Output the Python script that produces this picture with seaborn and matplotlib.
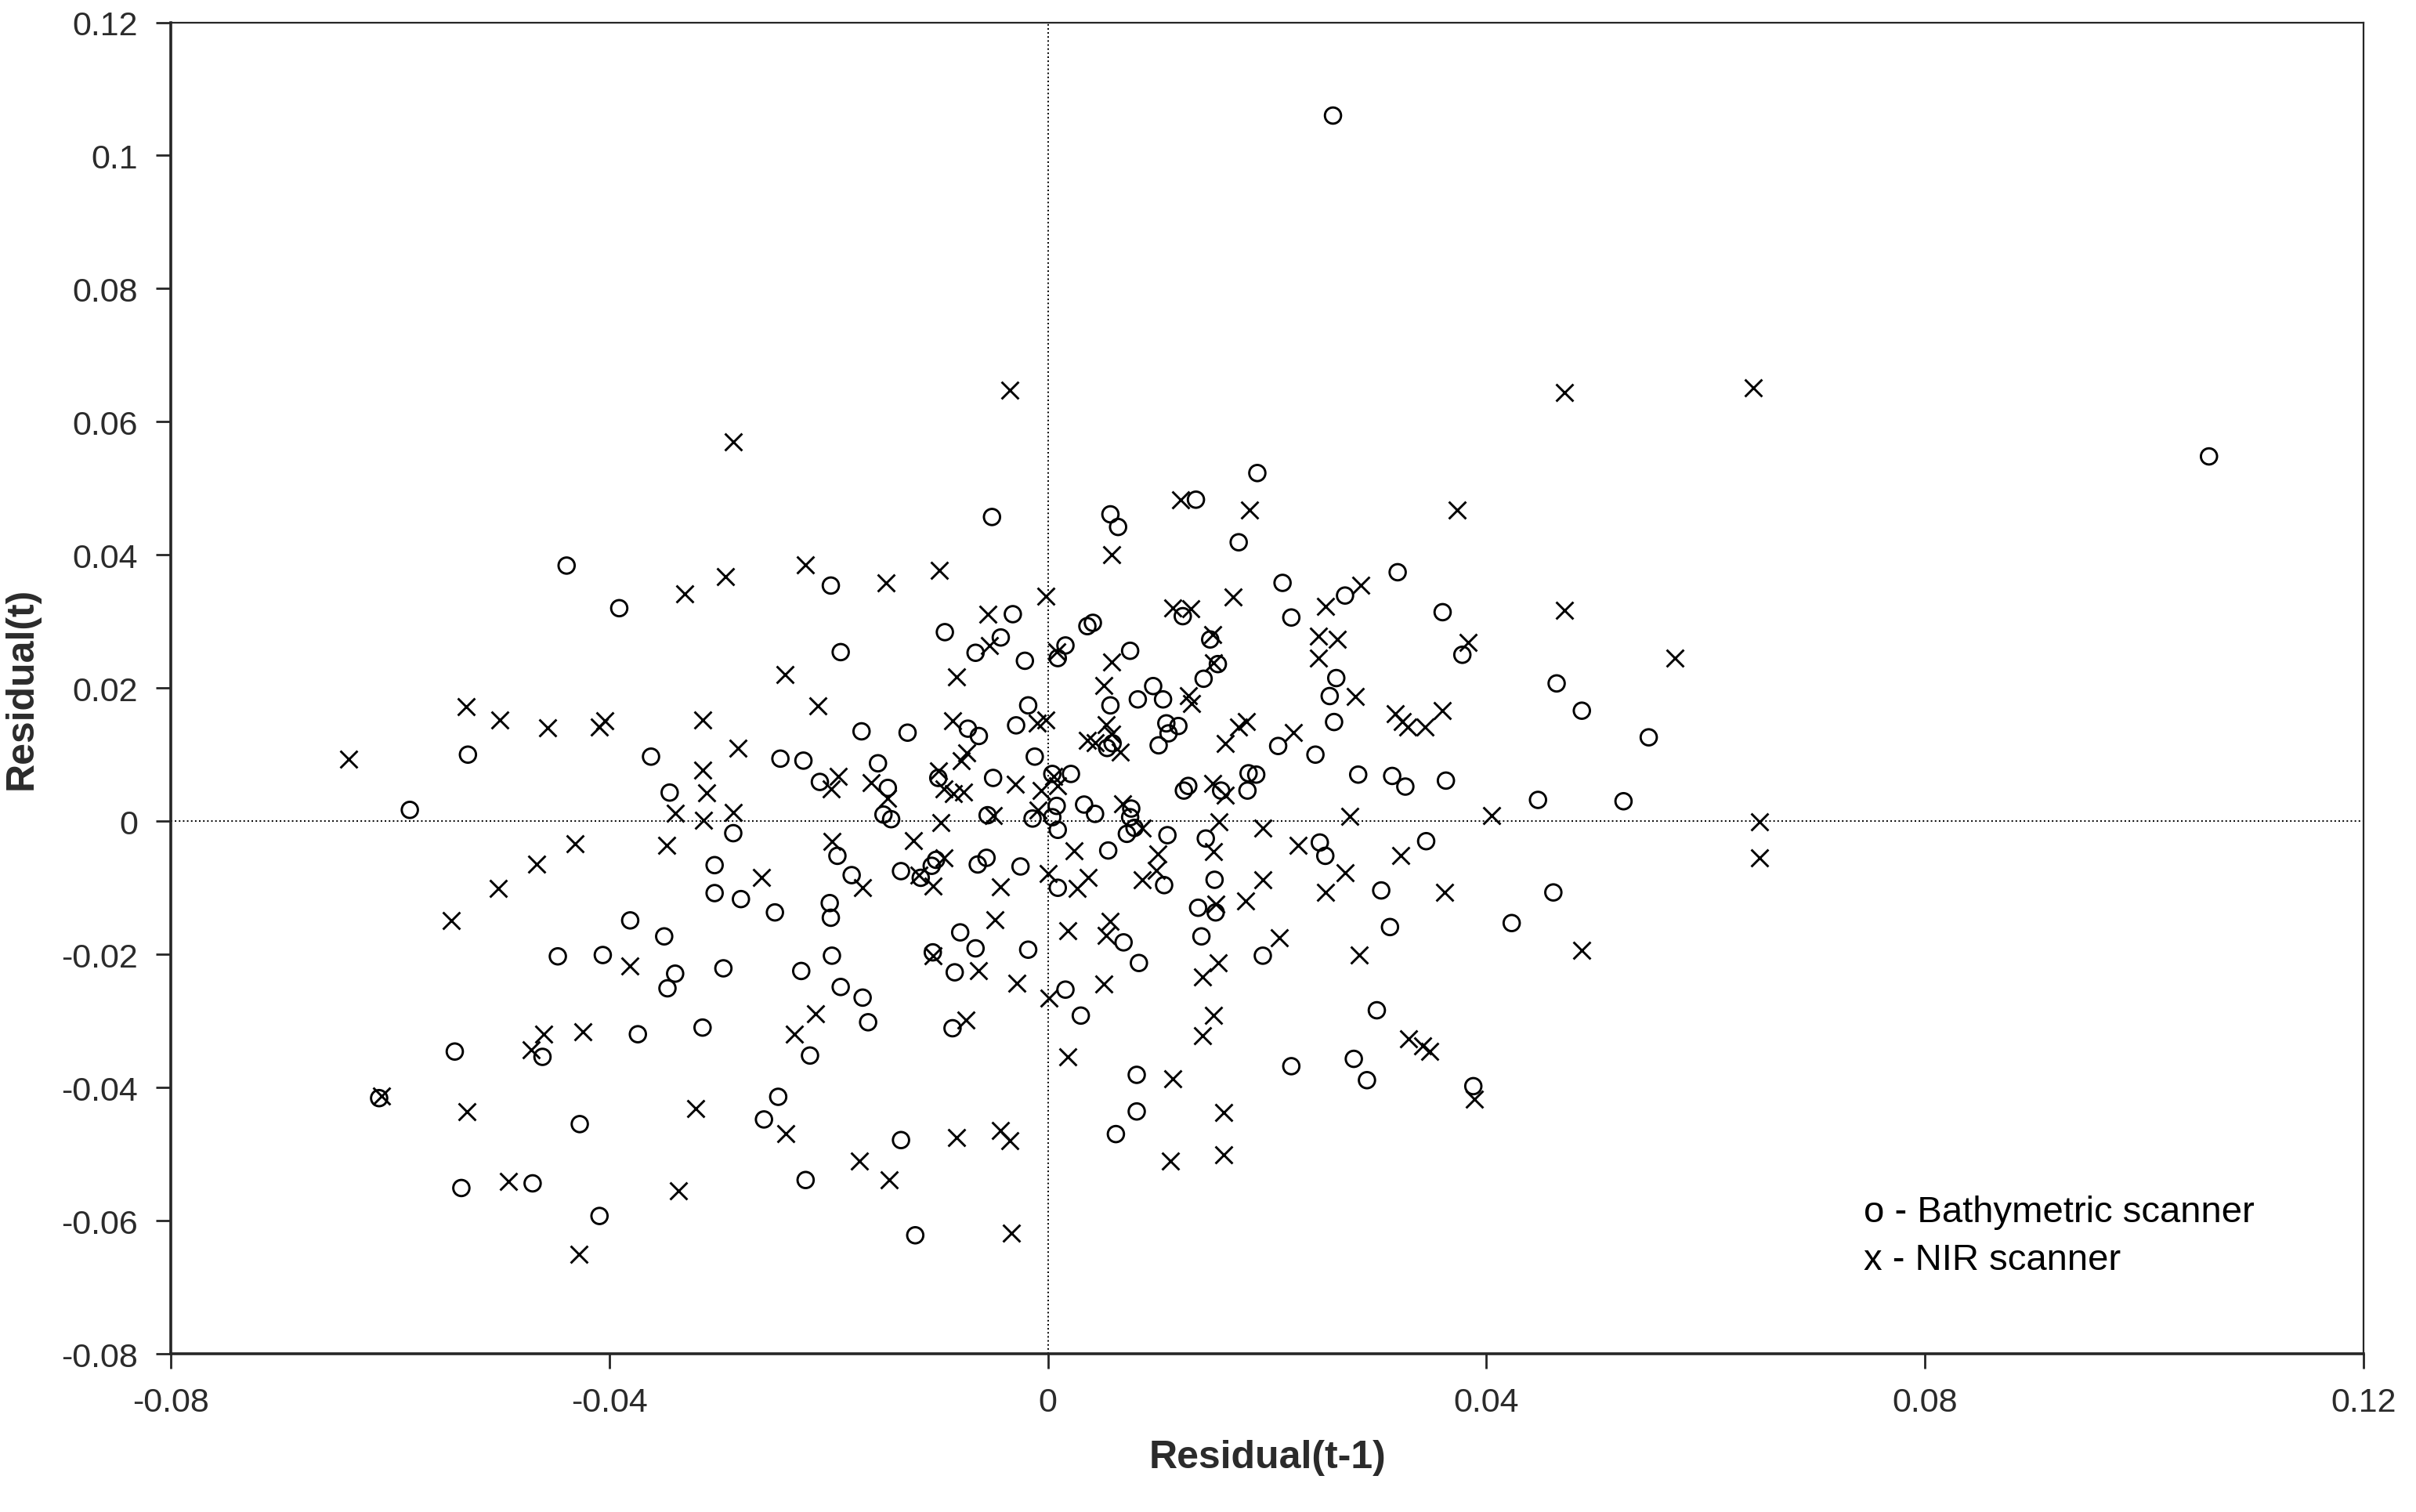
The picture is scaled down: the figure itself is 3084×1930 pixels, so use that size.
import pandas as pd
import matplotlib.pyplot as plt
import seaborn as sns

# Residual(t-1), Residual(t) pairs
bath_x = [0.0260, 0.1059,
          -0.0439, -0.0391, -0.0529, -0.0362, -0.0345, -0.0582,
          -0.0287, -0.0304, -0.0304, -0.0280, -0.0381, -0.0350, -0.0447, -0.0406, -0.0340, -0.0347,
          -0.0296, -0.0374, -0.0315, -0.0541, -0.0461, -0.0610, -0.0427, -0.0535, -0.0470, -0.0409,
          -0.0143, -0.0055, -0.0014, 0.0004, 0.0009, 0.0043, 0.0075, 0.0072, 0.0079, 0.0109,
          0.0144, 0.0055, -0.0192, -0.0179, -0.0134, -0.0116, -0.0106, -0.0102, -0.0064, -0.0056,
          -0.0025, 0.0009, 0.0106, 0.0152, 0.0137, 0.0153, 0.0140, -0.0249, -0.0199, -0.0198,
          -0.0197, -0.0225, -0.0189, -0.0169, -0.0164, -0.0105, -0.0080, -0.0066, -0.0085, -0.0018,
          0.0069, 0.0083, 0.0016, 0.0030, -0.0087, -0.0217, 0.0081, 0.0081, 0.0062, -0.0246,
          -0.0259, -0.0134, -0.0221, -0.0121,
          0.0248, 0.0253, 0.0345, 0.0304, 0.0312, 0.0423, 0.0461, 0.0196, 0.0300, 0.0222,
          0.0279, 0.0291, 0.0388,
          0.0191, 0.0174, 0.0214, 0.0271, 0.0222, 0.0319, 0.0360, 0.0378, 0.0263, 0.0257,
          0.0261, 0.0464, 0.0487, 0.0548, 0.0210, 0.0244, 0.0183, 0.0190, 0.0182, 0.0283,
          0.0314, 0.0326, 0.0363, 0.0447, 0.0525,
          -0.0051, 0.0057, 0.0064, 0.0135, -0.0198, -0.0094, -0.0032, -0.0189, -0.0066, -0.0043,
          -0.0021, 0.0009, 0.0016, 0.0036, 0.0041, 0.0075, 0.0123, 0.0148, 0.0155, 0.0142,
          0.0096, 0.0105, 0.0082, 0.0057, -0.0018, -0.0029, -0.0073, -0.0063, -0.0170, -0.0128,
          -0.0244, -0.0223, -0.0155, -0.0208, -0.0146, -0.0100, -0.0050, -0.0012, 0.0004, 0.0021,
          0.0108, 0.0119, 0.0110, 0.0101, 0.0054, 0.0059, 0.0124, 0.0128, 0.0158, 0.0008,
          0.0033, -0.0150, 0.0076]
bath_y = [0.1060, 0.0548,
          0.0384, 0.0320, 0.0100, 0.0097, 0.0043, 0.0017,
          -0.0018, -0.0066, -0.0108, -0.0117, -0.0149, -0.0173, -0.0203, -0.0201, -0.0229, -0.0251,
          -0.0221, -0.0320, -0.0310, -0.0346, -0.0354, -0.0416, -0.0455, -0.0551, -0.0544, -0.0593,
          0.0003, 0.0009, 0.0004, 0.0006, -0.0013, 0.0011, 0.0006, -0.0019, -0.0010, -0.0021,
          -0.0026, -0.0044, -0.0052, -0.0081, -0.0075, -0.0085, -0.0067, -0.0058, -0.0065, -0.0055,
          -0.0068, -0.0100, -0.0096, -0.0088, -0.0130, -0.0137, -0.0173, -0.0137, -0.0123, -0.0145,
          -0.0202, -0.0225, -0.0249, -0.0265, -0.0302, -0.0197, -0.0167, -0.0191, -0.0227, -0.0193,
          -0.0182, -0.0213, -0.0253, -0.0292, -0.0311, -0.0352, -0.0381, -0.0436, -0.0470, -0.0414,
          -0.0448, -0.0479, -0.0539, -0.0622,
          -0.0032, -0.0052, -0.0030, -0.0104, -0.0159, -0.0153, -0.0107, -0.0202, -0.0284, -0.0368,
          -0.0357, -0.0389, -0.0398,
          0.0523, 0.0419, 0.0358, 0.0339, 0.0306, 0.0374, 0.0314, 0.0250, 0.0215, 0.0188,
          0.0149, 0.0207, 0.0166, 0.0126, 0.0113, 0.0100, 0.0072, 0.0070, 0.0046, 0.0070,
          0.0068, 0.0052, 0.0061, 0.0032, 0.0030,
          0.0457, 0.0461, 0.0442, 0.0483, 0.0354, 0.0284, 0.0311, 0.0254, 0.0253, 0.0276,
          0.0241, 0.0245, 0.0264, 0.0293, 0.0298, 0.0256, 0.0308, 0.0273, 0.0236, 0.0214,
          0.0203, 0.0183, 0.0183, 0.0174, 0.0174, 0.0144, 0.0139, 0.0128, 0.0135, 0.0133,
          0.0094, 0.0091, 0.0087, 0.0059, 0.0050, 0.0065, 0.0065, 0.0097, 0.0071, 0.0071,
          0.0147, 0.0143, 0.0132, 0.0114, 0.0110, 0.0117, 0.0046, 0.0053, 0.0046, 0.0023,
          0.0025, 0.0010, 0.0019]

nir_x = [0.0643, 0.0649, 0.0649,
         -0.0287, -0.0294, -0.0331, -0.0531, -0.0500, -0.0456, -0.0404, -0.0409, -0.0315, -0.0283,
         -0.0638, -0.0315, -0.0311, -0.0287, -0.0340,
         -0.0314, -0.0431, -0.0348, -0.0466, -0.0501, -0.0544, -0.0381, -0.0460, -0.0424, -0.0471,
         -0.0608, -0.0530, -0.0321, -0.0492, -0.0337, -0.0428,
         -0.0098, -0.0197, -0.0123, -0.0261, -0.0169, -0.0095, -0.0118, -0.0105, -0.0043, 0.0000,
         0.0024, 0.0037, 0.0027, 0.0086, 0.0100, 0.0099, 0.0086, 0.0151, 0.0156, 0.0153,
         -0.0048, 0.0018, 0.0057, 0.0053, -0.0105, -0.0063, -0.0028, 0.0001, 0.0051, 0.0155,
         0.0141, -0.0212, -0.0231, -0.0075, 0.0151, 0.0141, 0.0018, 0.0114, 0.0160, -0.0239,
         -0.0083, -0.0043, -0.0035, -0.0172, -0.0145, 0.0112, 0.0160, -0.0033,
         0.0196, 0.0228, 0.0322, 0.0196, 0.0180, 0.0253, 0.0271, 0.0362, 0.0211, 0.0284,
         0.0487, 0.0329, 0.0342, 0.0348, 0.0389,
         0.0471, 0.0184, 0.0373, 0.0169, 0.0285, 0.0253, 0.0471, 0.0247, 0.0264, 0.0247,
         0.0383, 0.0572, 0.0280, 0.0317, 0.0323, 0.0328, 0.0344, 0.0360, 0.0181, 0.0174,
         0.0162, 0.0224, 0.0162, 0.0275, 0.0405,
         -0.0035, 0.0058, 0.0121, -0.0221, -0.0148, -0.0099, -0.0002, -0.0055, -0.0053, 0.0008,
         0.0058, 0.0114, 0.0130, 0.0150, 0.0151, -0.0240, -0.0083, 0.0051, 0.0128, 0.0131,
         -0.0210, -0.0087, -0.0010, -0.0002, 0.0053, 0.0036, 0.0043, 0.0058, 0.0066, -0.0074,
         -0.0079, -0.0100, -0.0191, -0.0198, -0.0161, -0.0146, -0.0095, -0.0086, -0.0077, -0.0030,
         -0.0006, 0.0005, 0.0009, -0.0009, -0.0050, 0.0068, 0.0150]
nir_y = [0.0651, -0.0001, -0.0055,
         0.0570, 0.0368, 0.0342, 0.0172, 0.0152, 0.0140, 0.0151, 0.0142, 0.0152, 0.0110,
         0.0093, 0.0077, 0.0043, 0.0013, 0.0012,
         0.0001, -0.0034, -0.0036, -0.0064, -0.0101, -0.0149, -0.0217, -0.0320, -0.0316, -0.0343,
         -0.0413, -0.0436, -0.0432, -0.0541, -0.0555, -0.0650,
         -0.0002, -0.0030, -0.0029, -0.0084, -0.0100, -0.0055, -0.0081, -0.0097, -0.0098, -0.0078,
         -0.0045, -0.0085, -0.0101, -0.0088, -0.0049, -0.0074, -0.0010, -0.0046, -0.0001, -0.0124,
         -0.0148, -0.0164, -0.0150, -0.0171, -0.0202, -0.0225, -0.0243, -0.0266, -0.0245, -0.0213,
         -0.0234, -0.0289, -0.0320, -0.0299, -0.0292, -0.0322, -0.0354, -0.0387, -0.0438, -0.0469,
         -0.0475, -0.0464, -0.0480, -0.0510, -0.0539, -0.0510, -0.0501, -0.0619,
         -0.0010, -0.0036, -0.0051, -0.0088, -0.0120, -0.0107, -0.0077, -0.0107, -0.0175, -0.0201,
         -0.0194, -0.0327, -0.0337, -0.0346, -0.0417,
         0.0644, 0.0468, 0.0468, 0.0337, 0.0355, 0.0323, 0.0317, 0.0278, 0.0273, 0.0245,
         0.0269, 0.0245, 0.0187, 0.0161, 0.0150, 0.0142, 0.0141, 0.0166, 0.0150, 0.0142,
         0.0117, 0.0133, 0.0039, 0.0007, 0.0008,
         0.0648, 0.0400, 0.0483, 0.0385, 0.0358, 0.0377, 0.0338, 0.0311, 0.0264, 0.0255,
         0.0239, 0.0320, 0.0319, 0.0280, 0.0238, 0.0220, 0.0217, 0.0204, 0.0188, 0.0177,
         0.0173, 0.0151, 0.0147, 0.0152, 0.0145, 0.0122, 0.0118, 0.0131, 0.0104, 0.0103,
         0.0091, 0.0076, 0.0067, 0.0048, 0.0058, 0.0034, 0.0048, 0.0042, 0.0044, 0.0055,
         0.0046, 0.0067, 0.0053, 0.0017, 0.0008, 0.0026, 0.0057]

x_ticks = [-0.08, -0.04, 0, 0.04, 0.08, 0.12]
x_tick_labels = ['-0.08', '-0.04', '0', '0.04', '0.08', '0.12']
y_ticks = [-0.08, -0.06, -0.04, -0.02, 0, 0.02, 0.04, 0.06, 0.08, 0.1, 0.12]
y_tick_labels = ['-0.08', '-0.06', '-0.04', '-0.02', '0', '0.02', '0.04', '0.06', '0.08', '0.1', '0.12']

bath = pd.DataFrame({'prev': bath_x, 'curr': bath_y})
nir = pd.DataFrame({'prev': nir_x, 'curr': nir_y})

sns.set_style('ticks')
plt.rcParams['font.family'] = ['Liberation Sans', 'DejaVu Sans']

fig, ax = plt.subplots(figsize=(15.42, 9.655), dpi=200)
fig.subplots_adjust(left=0.0707, right=0.9783, top=0.9847, bottom=0.1046)

# zero reference lines
ax.axvline(0, color='black', linestyle=':', linewidth=0.7, zorder=1)
ax.axhline(0, color='black', linestyle=':', linewidth=0.7, zorder=1)

sns.scatterplot(data=bath, x='prev', y='curr', marker='o', s=55,
                facecolor='none', edgecolor='black', linewidth=1.05, ax=ax, zorder=3)
sns.scatterplot(data=nir, x='prev', y='curr', marker='x', s=62,
                color='black', linewidth=1.05, ax=ax, zorder=3)

ax.set_xlim(-0.08, 0.12)
ax.set_ylim(-0.08, 0.12)
ax.set_xticks(x_ticks)
ax.set_xticklabels(x_tick_labels)
ax.set_yticks(y_ticks)
ax.set_yticklabels(y_tick_labels)
ax.tick_params(axis='both', labelsize=15.5, labelcolor='#2b2b2b', length=7,
               width=1.0, direction='out', pad=8)

ax.set_xlabel('Residual(t-1)', fontsize=18, fontweight='bold', color='#2b2b2b', labelpad=10)
ax.set_ylabel('Residual(t)', fontsize=18, fontweight='bold', color='#2b2b2b', labelpad=10)

for side in ['left', 'bottom']:
    ax.spines[side].set_linewidth(1.3)
for side in ['top', 'right']:
    ax.spines[side].set_linewidth(0.8)
    ax.spines[side].set_visible(True)

ax.text(0.772, 0.1065, 'o - Bathymetric scanner', transform=ax.transAxes,
        fontsize=17, va='center', ha='left', color='black')
ax.text(0.772, 0.0706, 'x - NIR scanner', transform=ax.transAxes,
        fontsize=17, va='center', ha='left', color='black')

plt.savefig('out.png', dpi=200)
